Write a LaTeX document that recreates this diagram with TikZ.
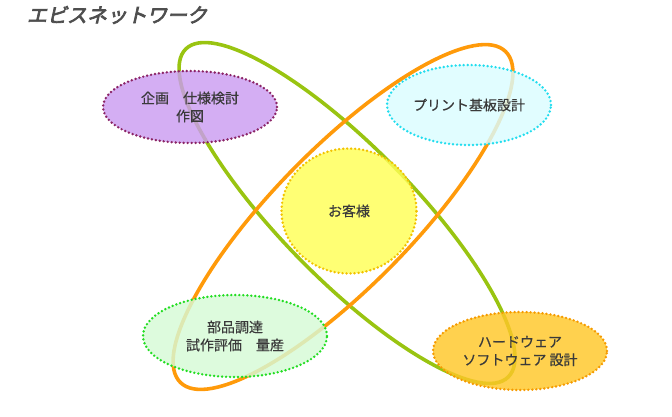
\documentclass[tikz,border=0pt]{standalone}
\usepackage{fontspec}
\usetikzlibrary{shapes.geometric}
\newfontfamily\jpfont[FakeBold=0.5]{Noto Sans CJK JP}
\newfontfamily\titlefont[FakeSlant=0.22,FakeBold=3.5]{Noto Sans CJK JP}
\definecolor{loopgreen}{HTML}{99C411}
\definecolor{looporange}{HTML}{FF9A0A}
\definecolor{txtgray}{HTML}{3A3A3A}
\definecolor{planline}{HTML}{8B2466}
\definecolor{planfill}{HTML}{CA9CF0}
\definecolor{pcbline}{HTML}{22DDEE}
\definecolor{pcbfill}{HTML}{DAFCFF}
\definecolor{clientline}{HTML}{F2C200}
\definecolor{clientfill}{HTML}{FFFF55}
\definecolor{partsline}{HTML}{22DD22}
\definecolor{partsfill}{HTML}{D6FAD6}
\definecolor{designline}{HTML}{F59A00}
\definecolor{designfill}{HTML}{FFC727}
\tikzset{
  blob/.style={ellipse, inner sep=0pt, line width=2.7pt, dash pattern=on 0pt off 4pt,
    line cap=round, fill opacity=0.82, text opacity=1, align=center, text=txtgray,
    font=\jpfont\fontsize{14}{18}\selectfont},
  ring/.style={line width=3.6pt}
}
\begin{document}
\begin{tikzpicture}[x=1pt,y=1pt]
  \useasboundingbox (0,0) rectangle (672,416);
  \node[text=txtgray!90, font=\titlefont\fontsize{20}{20}\selectfont] (title) at (117,401) {エビスネットワーク};

  % the two big loops
  \draw[ring, loopgreen] (347,203) ellipse[x radius=230, y radius=66, rotate=-45.5];
  \draw[ring, looporange] (343,199) ellipse[x radius=232, y radius=69, rotate=45.5];

  \node[blob, draw=planline, fill=planfill, minimum width=174, minimum height=72]
    (plan) at (190,309) {企画　仕様検討\\作図};
  \node[blob, draw=pcbline, fill=pcbfill, minimum width=164, minimum height=80]
    (pcb) at (469,311) {プリント基板設計};
  \node[blob, draw=clientline, fill=clientfill, minimum width=135, minimum height=125]
    (client) at (349,205) {お客様};
  \node[blob, draw=partsline, fill=partsfill, minimum width=184, minimum height=82]
    (parts) at (235,80) {部品調達\\試作評価　量産};
  \node[blob, draw=designline, fill=designfill, minimum width=174, minimum height=78]
    (design) at (520,65) {ハードウェア\\ソフトウェア 設計};
\end{tikzpicture}
\end{document}
